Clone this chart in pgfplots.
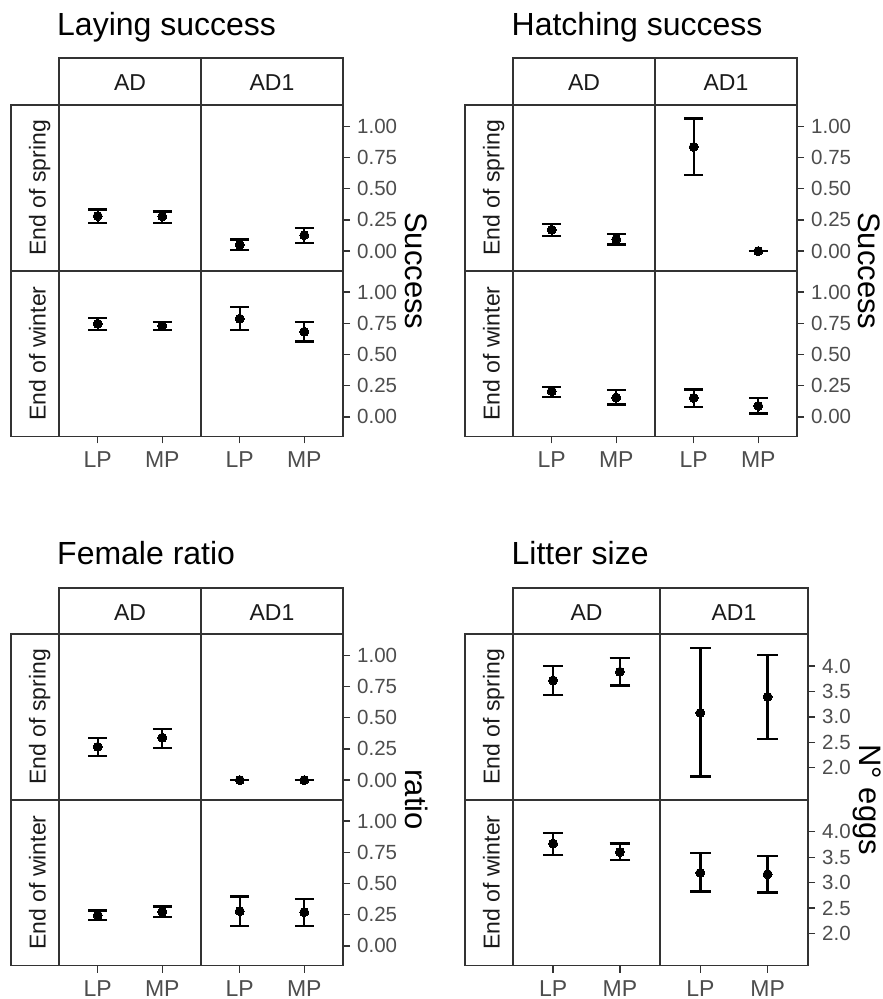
\documentclass[border=0pt]{standalone}
\usepackage{pgfplots}
\pgfplotsset{compat=1.18}
\usepackage{fontspec}
\setmainfont{Liberation Sans}

\definecolor{grey10}{HTML}{1A1A1A}
\definecolor{grey20}{HTML}{333333}
\definecolor{grey30}{HTML}{4D4D4D}

\newcommand\fs[1]{\fontsize{#1}{#1}\selectfont}

\pgfplotsset{
  facet/.style={
    scale only axis,
    width=142pt, height=165.75pt,
    xmin=0.4, xmax=2.6,
    axis line style={draw=grey20, line width=1.6pt},
    tick style={draw=grey20, line width=1.4pt},
    tick align=outside,
    major tick length=7pt,
    xtick=\empty, ytick=\empty,
    xticklabel style={font=\fs{23}, text=grey30, inner sep=0pt, anchor=north, yshift=-7.5pt},
    yticklabel style={font=\fs{20.5}, text=grey30, inner sep=0pt, anchor=west, xshift=7pt},
    clip=false,
  },
  prop/.style={ymin=-0.157, ymax=1.17},
  eggs/.style={ymin=1.37, ymax=4.63},
  propticks/.style={ytick={0,0.25,0.5,0.75,1},
    yticklabels={0.00,0.25,0.50,0.75,1.00},
    ytick pos=right, yticklabel pos=right},
  eggticks/.style={ytick={2,2.5,3,3.5,4},
    yticklabels={2.0,2.5,3.0,3.5,4.0},
    ytick pos=right, yticklabel pos=right},
  bottomticks/.style={xtick={1,2}, xticklabels={LP,MP},
    xtick pos=left, xticklabel pos=left},
  ebar/.style={black, only marks, mark=*, mark size=4.5pt,
    mark options={solid, fill=black, draw=black, line width=0pt},
    error bars/y dir=both, error bars/y explicit,
    error bars/error bar style={line width=2.3pt, black, solid},
    error bars/error mark options={rotate=90, line width=2.3pt, black, mark size=9.5pt}},
  ebarwide/.style={ebar,
    error bars/error mark options={rotate=90, line width=2.3pt, black, mark size=10.2pt}},
}

\tikzset{
  stripbox/.style={draw=grey20, line width=1.6pt, fill=white},
  striptext/.style={inner sep=0pt, text=grey10, font=\fs{23}},
  facettitle/.style={inner sep=0pt, anchor=base west, text=black, font=\fs{32}},
  ytitle/.style={inner sep=0pt, anchor=base, rotate=-90, text=black, font=\fs{31}},
}

% strips around a 2x2 facet grid
% #1 row-strip left, #2 panel left, #3 column split, #4 panel right,
% #5 strip top, #6 panel top, #7 row height
\newcommand\decor[7]{%
  \pgfmathsetmacro\xs{#1}%
  \pgfmathsetmacro\xa{#2}\pgfmathsetmacro\xb{#3}\pgfmathsetmacro\xc{#4}%
  \pgfmathsetmacro\yt{#5}%
  \pgfmathsetmacro\ya{#6}\pgfmathsetmacro\yb{#6-#7}\pgfmathsetmacro\yc{#6-2*#7}%
  \pgfmathsetmacro\cxa{0.5*(#2+#3)}\pgfmathsetmacro\cxb{0.5*(#3+#4)}%
  \pgfmathsetmacro\cty{#5-32.5}%
  \pgfmathsetmacro\rx{#1+34.5}%
  \pgfmathsetmacro\rya{#6-0.5*#7}\pgfmathsetmacro\ryb{#6-1.5*#7}%
  \draw[stripbox] (\xa pt,\ya pt) rectangle (\xb pt,\yt pt);
  \draw[stripbox] (\xb pt,\ya pt) rectangle (\xc pt,\yt pt);
  \draw[stripbox] (\xs pt,\ya pt) rectangle (\xa pt,\yb pt);
  \draw[stripbox] (\xs pt,\yb pt) rectangle (\xa pt,\yc pt);
  \node[striptext, anchor=base] at (\cxa pt,\cty pt) {AD};
  \node[striptext, anchor=base] at (\cxb pt,\cty pt) {AD1};
  \node[striptext, anchor=base, rotate=90] at (\rx pt,\rya pt) {End of spring};
  \node[striptext, anchor=base, rotate=90] at (\rx pt,\ryb pt) {End of winter};
}

\begin{document}
\begin{tikzpicture}
\path[use as bounding box] (0pt,0pt) rectangle (883pt,999pt);

% ---------------- Laying success ----------------
\begin{axis}[facet, prop, at={(59pt,894pt)}, anchor=north west]
\addplot[ebar] coordinates {(1,0.281) += (0,0.053) -= (0,0.054) (2,0.278) += (0,0.040) -= (0,0.051)};
\end{axis}
\begin{axis}[facet, prop, propticks, at={(201pt,894pt)}, anchor=north west]
\addplot[ebar] coordinates {(1,0.051) += (0,0.043) -= (0,0.040) (2,0.128) += (0,0.056) -= (0,0.064)};
\end{axis}
\begin{axis}[facet, prop, bottomticks, at={(59pt,728.25pt)}, anchor=north west]
\addplot[ebar] coordinates {(1,0.746) += (0,0.048) -= (0,0.051) (2,0.730) += (0,0.032) -= (0,0.035)};
\end{axis}
\begin{axis}[facet, prop, propticks, bottomticks, at={(201pt,728.25pt)}, anchor=north west]
\addplot[ebar] coordinates {(1,0.786) += (0,0.091) -= (0,0.091) (2,0.682) += (0,0.080) -= (0,0.078)};
\end{axis}
\decor{11}{59}{201}{343}{941}{894}{165.75}
\node[facettitle] at (57pt,963pt) {Laying success};
\node[ytitle] at (405pt,728.25pt) {Success};

% ---------------- Hatching success ----------------
\begin{axis}[facet, prop, at={(513pt,894pt)}, anchor=north west]
\addplot[ebar] coordinates {(1,0.171) += (0,0.048) -= (0,0.048) (2,0.096) += (0,0.043) -= (0,0.043)};
\end{axis}
\begin{axis}[facet, prop, propticks, at={(655pt,894pt)}, anchor=north west]
\addplot[ebar] coordinates {(1,0.834) += (0,0.227) -= (0,0.224) (2,0.0) += (0,0.0) -= (0,0.0)};
\end{axis}
\begin{axis}[facet, prop, bottomticks, at={(513pt,728.25pt)}, anchor=north west]
\addplot[ebar] coordinates {(1,0.206) += (0,0.035) -= (0,0.046) (2,0.155) += (0,0.059) -= (0,0.056)};
\end{axis}
\begin{axis}[facet, prop, propticks, bottomticks, at={(655pt,728.25pt)}, anchor=north west]
\addplot[ebar] coordinates {(1,0.152) += (0,0.067) -= (0,0.072) (2,0.088) += (0,0.062) -= (0,0.061)};
\end{axis}
\decor{465}{513}{655}{797}{941}{894}{165.75}
\node[facettitle] at (511.5pt,963pt) {Hatching success};
\node[ytitle] at (858pt,728.25pt) {Success};

% ---------------- Female ratio ----------------
\begin{axis}[facet, prop, at={(59pt,365pt)}, anchor=north west]
\addplot[ebar] coordinates {(1,0.267) += (0,0.073) -= (0,0.074) (2,0.340) += (0,0.069) -= (0,0.081)};
\end{axis}
\begin{axis}[facet, prop, propticks, at={(201pt,365pt)}, anchor=north west]
\addplot[ebar] coordinates {(1,0.0) += (0,0.0) -= (0,0.0) (2,0.0) += (0,0.0) -= (0,0.0)};
\end{axis}
\begin{axis}[facet, prop, bottomticks, at={(59pt,199.25pt)}, anchor=north west]
\addplot[ebar] coordinates {(1,0.246) += (0,0.037) -= (0,0.040) (2,0.273) += (0,0.043) -= (0,0.040)};
\end{axis}
\begin{axis}[facet, prop, propticks, bottomticks, at={(201pt,199.25pt)}, anchor=north west]
\addplot[ebar] coordinates {(1,0.278) += (0,0.118) -= (0,0.118) (2,0.270) += (0,0.104) -= (0,0.110)};
\end{axis}
\decor{11}{59}{201}{343}{411}{365}{165.75}
\node[facettitle] at (57pt,434pt) {Female ratio};
\node[ytitle] at (405pt,199.25pt) {ratio};

% ---------------- Litter size ----------------
\begin{axis}[facet, eggs, width=147pt, at={(513pt,365pt)}, anchor=north west]
\addplot[ebarwide] coordinates {(1,3.717) += (0,0.283) -= (0,0.289) (2,3.888) += (0,0.276) -= (0,0.270)};
\end{axis}
\begin{axis}[facet, eggs, eggticks, width=148pt, at={(660pt,365pt)}, anchor=north west]
\addplot[ebarwide] coordinates {(1,3.079) += (0,1.270) -= (0,1.250) (2,3.395) += (0,0.816) -= (0,0.829)};
\end{axis}
\begin{axis}[facet, eggs, bottomticks, width=147pt, at={(513pt,199.25pt)}, anchor=north west]
\addplot[ebarwide] coordinates {(1,3.768) += (0,0.212) -= (0,0.225) (2,3.603) += (0,0.165) -= (0,0.159)};
\end{axis}
\begin{axis}[facet, eggs, eggticks, bottomticks, width=148pt, at={(660pt,199.25pt)}, anchor=north west]
\addplot[ebarwide] coordinates {(1,3.192) += (0,0.391) -= (0,0.364) (2,3.166) += (0,0.351) -= (0,0.358)};
\end{axis}
\decor{465}{513}{660}{808}{411}{365}{165.75}
\node[facettitle] at (511.5pt,434pt) {Litter size};
\node[ytitle] at (859pt,199.25pt) {N° eggs};

\end{tikzpicture}
\end{document}
